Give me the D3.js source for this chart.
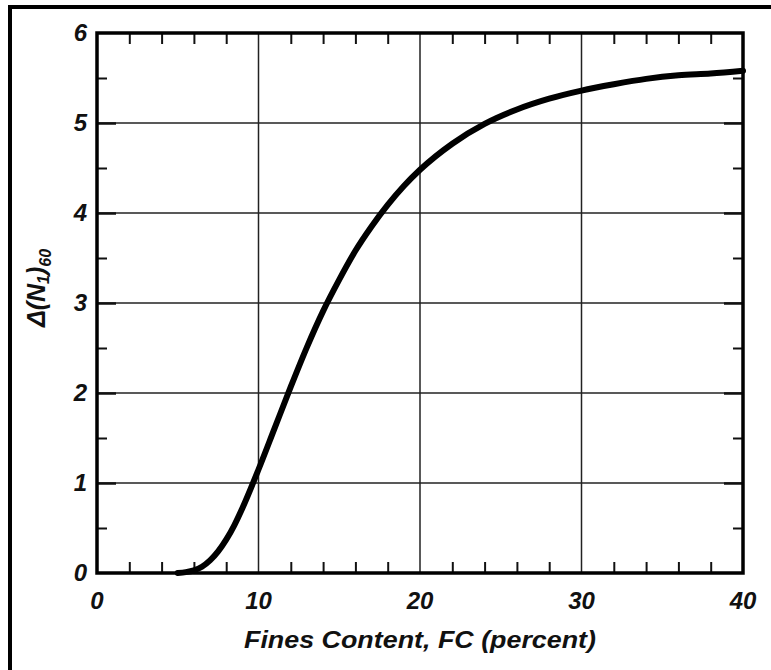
<!DOCTYPE html>
<html>
<head>
<meta charset="utf-8">
<script src="https://cdn.jsdelivr.net/npm/d3@7"></script>
<style>
  html, body { margin: 0; padding: 0; background: #fff; }
  svg { display: block; }
  .tick-label { font-family: "Liberation Sans", Arial, sans-serif; font-weight: bold; font-style: italic; font-size: 24px; fill: #111; }
  .axis-title { font-family: "Liberation Sans", Arial, sans-serif; font-weight: bold; font-style: italic; fill: #111; }
</style>
</head>
<body>
<svg id="chart" width="771" height="670"></svg>
<script>
// Fines content (percent) and the corresponding SPT blow-count increment
const finesContent = [5, 5.5, 6, 6.5, 7, 7.5, 8, 8.5, 9, 10, 11, 12, 13, 14, 15, 16, 17, 18, 19, 20, 22, 24, 26, 28, 30, 32, 34, 36, 38, 40];
const deltaN160   = [0, 0.01, 0.03, 0.07, 0.14, 0.24, 0.37, 0.53, 0.72, 1.15, 1.61, 2.07, 2.51, 2.91, 3.26, 3.58, 3.85, 4.09, 4.30, 4.48, 4.77, 4.99, 5.15, 5.27, 5.36, 5.43, 5.49, 5.53, 5.55, 5.58];

const xTickValues = [0, 10, 20, 30, 40];
const yTickValues = [0, 1, 2, 3, 4, 5, 6];
const xMinorTicks = [2, 4, 6, 8, 12, 14, 16, 18, 22, 24, 26, 28, 32, 34, 36, 38];
const yMinorTicks = [0.5, 1.5, 2.5, 3.5, 4.5, 5.5];

const svg = d3.select("#chart");
const plot = { left: 97, top: 33, right: 743, bottom: 573 };

const x = d3.scaleLinear().domain([0, 40]).range([plot.left, plot.right]);
const y = d3.scaleLinear().domain([0, 6]).range([plot.bottom, plot.top]);

// outer frame (top and left edges)
svg.append("line").attr("x1", 8).attr("x2", 771).attr("y1", 7).attr("y2", 7)
  .attr("stroke", "#000").attr("stroke-width", 4);
svg.append("line").attr("x1", 10).attr("x2", 10).attr("y1", 5).attr("y2", 670)
  .attr("stroke", "#000").attr("stroke-width", 4);

// grid lines
const grid = svg.append("g").attr("stroke", "#222").attr("stroke-width", 1.5);
grid.selectAll(".vg").data(xTickValues.slice(1, -1)).join("line")
  .attr("x1", d => x(d)).attr("x2", d => x(d)).attr("y1", plot.top).attr("y2", plot.bottom);
grid.selectAll(".hg").data(yTickValues.slice(1, -1)).join("line")
  .attr("x1", plot.left).attr("x2", plot.right).attr("y1", d => y(d)).attr("y2", d => y(d));

// inward ticks on all four sides via d3 axes
const tickStyle = g => {
  g.select(".domain").remove();
  g.selectAll(".tick line").attr("stroke", "#111").attr("stroke-width", 2);
  g.selectAll(".tick text").remove();
};
svg.append("g").attr("transform", `translate(0,${plot.bottom})`)
  .call(d3.axisBottom(x).tickValues(xMinorTicks).tickSizeInner(-11).tickSizeOuter(0)).call(tickStyle);
svg.append("g").attr("transform", `translate(0,${plot.top})`)
  .call(d3.axisTop(x).tickValues(xMinorTicks).tickSizeInner(-11).tickSizeOuter(0)).call(tickStyle);
svg.append("g").attr("transform", `translate(${plot.left},0)`)
  .call(d3.axisLeft(y).tickValues(yMinorTicks).tickSizeInner(-10).tickSizeOuter(0)).call(tickStyle);
svg.append("g").attr("transform", `translate(${plot.right},0)`)
  .call(d3.axisRight(y).tickValues(yMinorTicks).tickSizeInner(-10).tickSizeOuter(0)).call(tickStyle);
svg.append("g").attr("transform", `translate(${plot.left},0)`)
  .call(d3.axisLeft(y).tickValues(yTickValues.slice(1, -1)).tickSizeInner(-19).tickSizeOuter(0)).call(tickStyle)
  .selectAll(".tick line").attr("stroke-width", 2.5);
svg.append("g").attr("transform", `translate(${plot.right},0)`)
  .call(d3.axisRight(y).tickValues(yTickValues.slice(1, -1)).tickSizeInner(-19).tickSizeOuter(0)).call(tickStyle)
  .selectAll(".tick line").attr("stroke-width", 2.5);

// plot frame
svg.append("rect")
  .attr("x", plot.left).attr("y", plot.top)
  .attr("width", plot.right - plot.left).attr("height", plot.bottom - plot.top)
  .attr("fill", "none").attr("stroke", "#000").attr("stroke-width", 3.5);

// tick labels
svg.selectAll(".xl").data(xTickValues).join("text")
  .attr("class", "tick-label")
  .attr("x", d => x(d)).attr("y", plot.bottom + 36)
  .attr("text-anchor", "middle")
  .text(d => d);
svg.selectAll(".yl").data(yTickValues).join("text")
  .attr("class", "tick-label")
  .attr("x", plot.left - 10).attr("y", d => y(d) + 8)
  .attr("text-anchor", "end")
  .text(d => d);

// curve
const pts = finesContent.map((fc, i) => [fc, deltaN160[i]]);
svg.append("path")
  .datum(pts)
  .attr("fill", "none").attr("stroke", "#000").attr("stroke-width", 6)
  .attr("stroke-linecap", "round")
  .attr("d", d3.line().x(d => x(d[0])).y(d => y(d[1])).curve(d3.curveMonotoneX));

// axis titles
svg.append("text")
  .attr("class", "axis-title")
  .attr("x", 420).attr("y", 648)
  .attr("text-anchor", "middle")
  .attr("font-size", 23)
  .attr("textLength", 352)
  .attr("lengthAdjust", "spacingAndGlyphs")
  .text("Fines Content, FC (percent)");

const yt = svg.append("text")
  .attr("class", "axis-title")
  .attr("transform", "translate(45,288) rotate(-90)")
  .attr("text-anchor", "middle")
  .attr("font-size", 25);
yt.append("tspan").text("Δ(N");
yt.append("tspan").attr("font-size", 16).attr("dy", 4).text("1");
yt.append("tspan").attr("dy", -4).text(")");
yt.append("tspan").attr("font-size", 16).attr("dy", 6).text("60");
</script>
</body>
</html>
